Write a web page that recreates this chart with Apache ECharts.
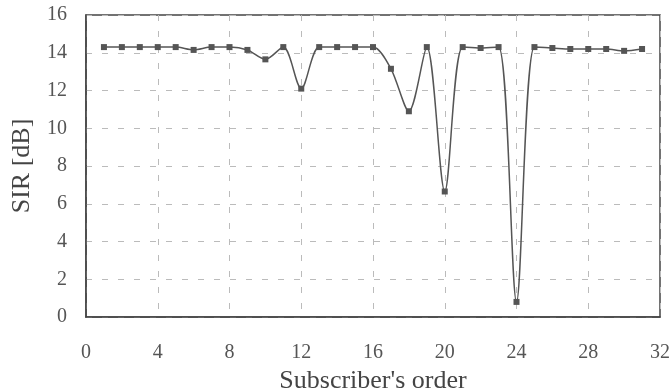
<!DOCTYPE html>
<html>
<head>
<meta charset="utf-8">
<script src="https://cdn.jsdelivr.net/npm/echarts@6/dist/echarts.min.js"></script>
<style>html,body{margin:0;padding:0;background:#fff;}#c{width:672px;height:391px;}</style>
</head>
<body>
<div id="c"></div>
<script>
var subscribers = [1,2,3,4,5,6,7,8,9,10,11,12,13,14,15,16,17,18,19,20,21,22,23,24,25,26,27,28,29,30,31];
var sir = [14.3,14.3,14.3,14.3,14.3,14.15,14.3,14.3,14.15,13.65,14.3,12.1,14.3,14.3,14.3,14.3,13.15,10.9,14.3,6.65,14.3,14.25,14.3,0.8,14.3,14.25,14.2,14.2,14.2,14.1,14.2];
var xTicks = [0,4,8,12,16,20,24,28,32];
var yTicks = [0,2,4,6,8,10,12,14,16];

var chart = echarts.init(document.getElementById('c'), null, {renderer:'canvas'});
var font = '"Liberation Serif", "DejaVu Serif", serif';
chart.setOption({
  animation: false,
  backgroundColor: '#fff',
  grid: {left: 86, right: 12, top: 15, bottom: 74, containLabel: false, outerBoundsMode: 'none', show: true, borderColor: '#444', borderWidth: 1.5, backgroundColor: 'transparent'},
  xAxis: {
    type: 'value', min: xTicks[0], max: xTicks[xTicks.length-1], interval: 4,
    name: "Subscriber's order", nameLocation: 'middle', nameGap: 48,
    nameTextStyle: {fontFamily: font, fontSize: 26, color: '#444'},
    axisLine: {show: true, lineStyle: {color: '#444', width: 1.5}},
    axisTick: {show: false},
    axisLabel: {fontFamily: font, fontSize: 20, color: '#555', margin: 26},
    splitLine: {show: true, lineStyle: {color: '#bbb', type: [6, 10], width: 1}}
  },
  yAxis: {
    type: 'value', min: yTicks[0], max: yTicks[yTicks.length-1], interval: 2,
    name: 'SIR [dB]', nameLocation: 'middle', nameGap: 51, nameRotate: 90,
    nameTextStyle: {fontFamily: font, fontSize: 26, color: '#444'},
    axisLine: {show: true, lineStyle: {color: '#444', width: 1.5}},
    axisTick: {show: false},
    axisLabel: {fontFamily: font, fontSize: 20, color: '#555', margin: 19},
    splitLine: {show: true, lineStyle: {color: '#bbb', type: [6, 10], width: 1}}
  },
  series: [{
    type: 'line',
    data: subscribers.map(function(x, i){ return [x, sir[i]]; }),
    smooth: 0.3,
    symbol: 'rect', symbolSize: 6,
    lineStyle: {color: '#555', width: 1.5},
    itemStyle: {color: '#555'}
  }]
});
</script>
</body>
</html>
